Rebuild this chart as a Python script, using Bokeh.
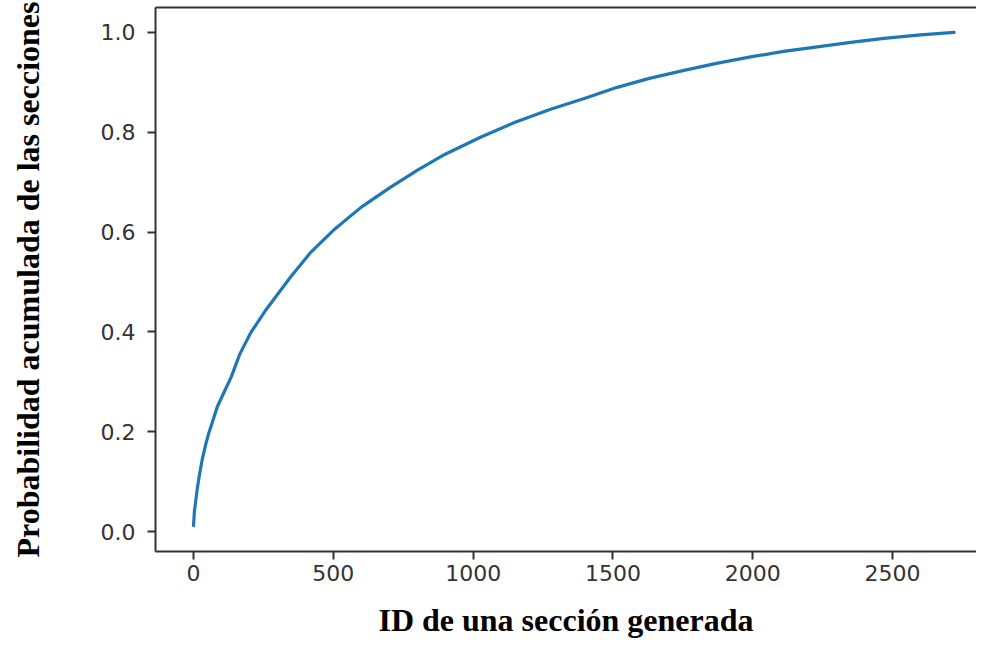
from bokeh.plotting import figure
from bokeh.models import FixedTicker, PrintfTickFormatter, Range1d, LinearAxis
from bokeh.embed import file_html
from bokeh.resources import INLINE

# data
section_id = [0, 3, 13, 20, 31, 45, 55, 65, 85, 110, 135, 165, 204, 260, 347,
              420, 501, 600, 705, 801, 900, 1026, 1150, 1277, 1400, 1515, 1630,
              1754, 1870, 1992, 2110, 2231, 2350, 2469, 2600, 2720]
cum_prob = [0.012, 0.04, 0.084, 0.11, 0.144, 0.178, 0.198, 0.215, 0.25, 0.28,
            0.31, 0.355, 0.398, 0.445, 0.51, 0.56, 0.604, 0.65, 0.69, 0.724,
            0.756, 0.79, 0.82, 0.846, 0.868, 0.89, 0.908, 0.924, 0.938, 0.951,
            0.962, 0.971, 0.98, 0.988, 0.995, 1.0]
x_ticks = [0, 500, 1000, 1500, 2000, 2500]
y_ticks = [0.0, 0.2, 0.4, 0.6, 0.8, 1.0]

p = figure(width=976, height=640, output_backend="svg", toolbar_location=None,
           x_range=Range1d(-136, 2800), y_range=Range1d(-0.04, 1.05),
           min_border_left=155, min_border_right=0, min_border_top=7,
           min_border_bottom=88)

p.line(section_id, cum_prob, line_color="#1f77b4", line_width=3.2,
       line_join="round", line_cap="round")

p.grid.visible = False
p.outline_line_color = None
p.background_fill_color = "white"
p.border_fill_color = "white"

bottom = p.below[0]
left = p.left[0]

# top spine (right spine lies outside the picture in the reference)
top = LinearAxis(ticker=FixedTicker(ticks=[]),
                 axis_line_color="#333333", axis_line_width=2,
                 major_tick_line_color=None, minor_tick_line_color=None,
                 major_tick_out=0, major_label_standoff=0)
p.add_layout(top, "above")

bottom.ticker = FixedTicker(ticks=x_ticks)
left.ticker = FixedTicker(ticks=y_ticks)
left.formatter = PrintfTickFormatter(format="%.1f")

for ax in (bottom, left):
    ax.axis_line_color = "#333333"
    ax.axis_line_width = 2
    ax.major_tick_line_color = "#333333"
    ax.major_tick_line_width = 2
    ax.major_tick_out = 8
    ax.major_tick_in = 0
    ax.minor_tick_line_color = None
    ax.major_label_text_font = "DejaVu Sans"
    ax.major_label_text_font_size = "22px"
    ax.major_label_text_color = "#333333"
    ax.axis_label_text_font = "Liberation Serif"
    ax.axis_label_text_font_style = "bold"
    ax.axis_label_text_font_size = "32px"
    ax.axis_label_text_color = "black"

bottom.axis_label = "ID de una sección generada"
left.axis_label = "Probabilidad acumulada de las secciones"
bottom.major_label_standoff = 5
left.major_label_standoff = 12
bottom.axis_label_standoff = 18
left.axis_label_standoff = 52

open("out.html", "w").write(file_html(p, INLINE))
